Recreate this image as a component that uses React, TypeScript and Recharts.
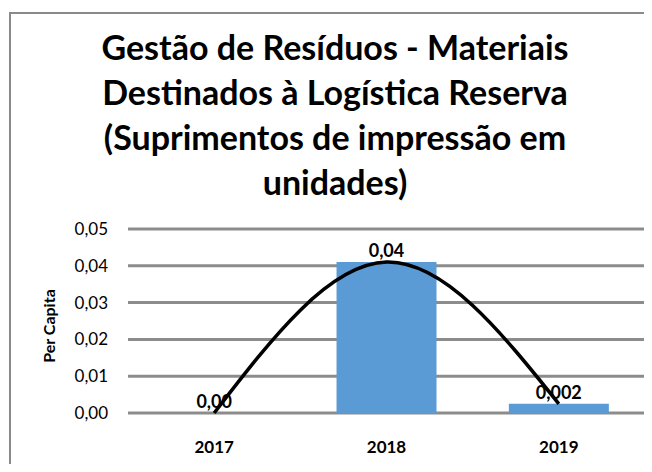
import { ComposedChart, Bar, Line, XAxis, YAxis, CartesianGrid, LabelList } from 'recharts';

const years = ['2017', '2018', '2019'];
const perCapita = [0, 0.041, 0.0025];
const valueLabels = ['0,00', '0,04', '0,002'];
const yTicks = [0, 0.01, 0.02, 0.03, 0.04, 0.05];
const titleLines = [
  'Gestão de Resíduos - Materiais',
  'Destinados à Logística Reserva',
  '(Suprimentos de impressão em',
  'unidades)',
];

const data = years.map((year, i) => ({ year, value: perCapita[i], label: valueLabels[i] }));

const FONT = 'Lato, "Open Sans", sans-serif';

const YLabel = ({ viewBox }: any) => {
  const cx = viewBox.x + 40;
  const cy = viewBox.y + viewBox.height / 2 + 5;
  return (
    <text
      x={cx}
      y={cy}
      transform={`rotate(-90 ${cx} ${cy})`}
      textAnchor="middle"
      dominantBaseline="central"
      fontFamily={FONT}
      fontWeight="bold"
      fontSize={16}
      fill="#000"
    >
      Per Capita
    </text>
  );
};

const App = () => {
  return (
    <div style={{ position: 'relative', width: 644, height: 456, overflow: 'hidden', background: '#fff' }}>
      <div
        style={{
          position: 'absolute',
          left: 1,
          top: 4,
          width: 800,
          height: 600,
          border: '2px solid #8a8a8a',
        }}
      />
      <div
        style={{
          position: 'absolute',
          left: 27,
          top: 16,
          width: 600,
          textAlign: 'center',
          fontFamily: FONT,
          fontWeight: 'bold',
          fontSize: 34,
          lineHeight: '45px',
          color: '#000',
        }}
      >
        {titleLines.map((line) => (
          <div key={line}>{line}</div>
        ))}
      </div>
      <div style={{ position: 'absolute', left: 0, top: 0 }}>
        <ComposedChart
          width={644}
          height={456}
          data={data}
          margin={{ top: 221, right: 7, left: 0, bottom: 21 }}
          barCategoryGap="21%"
        >
          <CartesianGrid vertical={false} stroke="#8c8c8c" strokeWidth={3} />
          <XAxis
            dataKey="year"
            axisLine={false}
            tickLine={false}
            tickSize={0}
            tickMargin={28}
            height={30}
            tick={{ fill: '#000', fontSize: 17, fontWeight: 'bold', fontFamily: FONT }}
          />
          <YAxis
            domain={[0, 0.05]}
            ticks={yTicks}
            width={120}
            axisLine={false}
            tickLine={false}
            tickSize={0}
            tickMargin={20}
            tickFormatter={(v: number) => v.toFixed(2).replace('.', ',')}
            tick={{ fill: '#000', fontSize: 17, fontFamily: FONT }}
            label={<YLabel />}
          />
          <Bar dataKey="value" fill="#5b9bd5" isAnimationActive={false} />
          <Line
            dataKey="value"
            type="natural"
            stroke="#000"
            strokeWidth={3.5}
            dot={false}
            activeDot={false}
            isAnimationActive={false}
          >
            <LabelList
              dataKey="label"
              position="top"
              offset={5}
              fill="#000"
              fontSize={18}
              fontWeight="bold"
              fontFamily={FONT}
            />
          </Line>
        </ComposedChart>
      </div>
    </div>
  );
};

export default App;
